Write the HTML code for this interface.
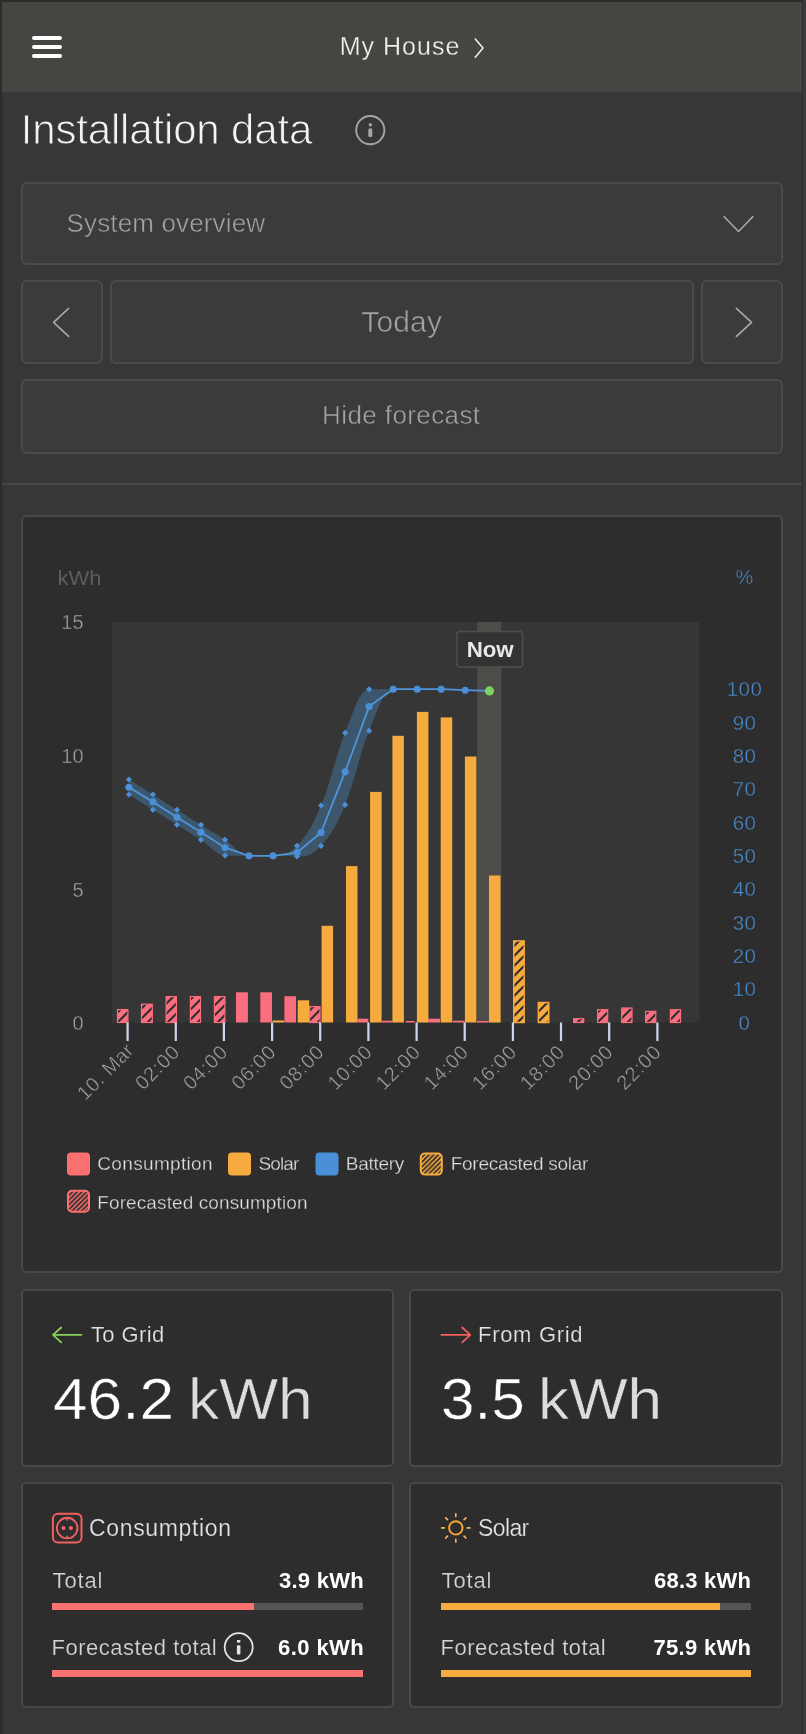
<!DOCTYPE html>
<html>
<head>
<meta charset="utf-8">
<title>Installation data</title>
<style>
html,body{margin:0;padding:0;}
body{width:806px;height:1734px;background:#373737;position:relative;overflow:hidden;
  font-family:"Liberation Sans",sans-serif;color:#fff;will-change:transform;}
.a{position:absolute;white-space:nowrap;line-height:1;}
.box{position:absolute;box-sizing:border-box;border:2px solid #4b4b4b;border-radius:6px;background:#3b3b3b;}
.card{position:absolute;box-sizing:border-box;border:2px solid #484848;border-radius:5px;background:#2d2d2d;}
.btxt{color:#a4a4a4;}
svg{position:absolute;left:0;top:0;overflow:visible;}
</style>
</head>
<body>
<!-- frame edges -->
<div class="a" style="left:0;top:0;width:806px;height:2px;background:#2c2c2b;"></div>
<div class="a" style="left:0;top:0;width:2px;height:1734px;background:#2c2c2c;"></div>
<div class="a" style="left:2px;top:92px;width:3px;height:1642px;background:#343434;"></div>
<div class="a" style="left:802px;top:0;width:1px;height:1734px;background:#2c2c2c;"></div>
<div class="a" style="left:803px;top:0;width:3px;height:1734px;background:#3a3a3a;"></div>

<!-- header -->
<div class="a" id="hdr" style="left:2px;top:2px;width:800px;height:90px;background:#474542;"></div>
<div class="a" style="left:32px;top:36px;width:30px;height:4px;border-radius:2px;background:#fff;"></div>
<div class="a" style="left:32px;top:45px;width:30px;height:4px;border-radius:2px;background:#fff;"></div>
<div class="a" style="left:32px;top:54px;width:30px;height:4px;border-radius:2px;background:#fff;"></div>
<div class="a" id="t_house" style="-webkit-text-stroke:0.3px #474542;left:339.8px;top:33.7px;letter-spacing:1.0px;font-size:25px;color:#f2f2f2;">My House</div>

<!-- title -->
<div class="a" id="t_title" style="left:20.7px;top:109.3px;-webkit-text-stroke:0.9px #373737;letter-spacing:-0.16px;font-size:42px;color:#f4f4f4;">Installation data</div>

<!-- select -->
<div class="box" style="left:21px;top:182px;width:762px;height:83px;"></div>
<div class="a btxt" id="t_sys" style="-webkit-text-stroke:0.5px #3b3b3b;left:66.6px;top:210.3px;letter-spacing:0.14px;font-size:26px;">System overview</div>

<!-- date nav -->
<div class="box" style="left:21px;top:280px;width:82px;height:84px;"></div>
<div class="box" style="left:110px;top:280px;width:584px;height:84px;"></div>
<div class="box" style="left:701px;top:280px;width:82px;height:84px;"></div>
<div class="a btxt" id="t_today" style="-webkit-text-stroke:0.6px #3b3b3b;left:361.3px;top:306.7px;letter-spacing:0.15px;font-size:30px;">Today</div>

<!-- hide forecast -->
<div class="box" style="left:21px;top:379px;width:762px;height:75px;"></div>
<div class="a btxt" id="t_hide" style="-webkit-text-stroke:0.5px #3b3b3b;left:322.1px;top:402.4px;letter-spacing:0.4px;font-size:26px;">Hide forecast</div>

<!-- separator -->
<div class="a" style="left:2px;top:483px;width:800px;height:2px;background:#474747;"></div>

<!-- chart card -->
<div class="card" style="left:21px;top:515px;width:762px;height:758px;"></div>

<!-- bottom cards -->
<div class="card" style="left:21px;top:1289px;width:373px;height:178px;"></div>
<div class="card" style="left:409px;top:1289px;width:374px;height:178px;"></div>
<div class="card" style="left:21px;top:1482px;width:373px;height:226px;"></div>
<div class="card" style="left:409px;top:1482px;width:374px;height:226px;"></div>

<svg width="806" height="1734" viewBox="0 0 806 1734">
<defs>
<pattern id="hs" patternUnits="userSpaceOnUse" width="10" height="10"><rect width="10" height="10" fill="#f7ab3e"/><path d="M 0 10 L 10 0 M -1 1 L 1 -1 M 9 11 L 11 9" stroke="#2f2f2f" stroke-width="2.2" fill="none"/></pattern>
<pattern id="hc" patternUnits="userSpaceOnUse" width="10" height="10"><rect width="10" height="10" fill="#fa6e80"/><path d="M 0 10 L 10 0 M -1 1 L 1 -1 M 9 11 L 11 9" stroke="#2f2f2f" stroke-width="2.2" fill="none"/></pattern>
<pattern id="hsl" patternUnits="userSpaceOnUse" width="4.7" height="4.7"><rect width="4.7" height="4.7" fill="#f7ab3e"/><path d="M 0 4.7 L 4.7 0 M -1 1 L 1 -1 M 3.7 5.7 L 5.7 3.7" stroke="#2b2b2b" stroke-width="1.8" fill="none"/></pattern>
<pattern id="hcl" patternUnits="userSpaceOnUse" width="4.7" height="4.7"><rect width="4.7" height="4.7" fill="#fa7070"/><path d="M 0 4.7 L 4.7 0 M -1 1 L 1 -1 M 3.7 5.7 L 5.7 3.7" stroke="#2b2b2b" stroke-width="1.8" fill="none"/></pattern>
</defs>
<rect x="111.7" y="622.0" width="587.8" height="400.5" fill="#363636"/>
<rect x="477.2" y="622.0" width="24.1" height="400.5" fill="#4e4c49"/>
<rect x="272.5" y="1020.5" width="11.5" height="2.0" fill="#f7ab3e"/>
<rect x="297.7" y="1000.3" width="11.5" height="22.2" fill="#f7ab3e"/>
<rect x="321.6" y="925.8" width="11.5" height="96.7" fill="#f7ab3e"/>
<rect x="346" y="866.1" width="11.5" height="156.4" fill="#f7ab3e"/>
<rect x="370.1" y="791.9" width="11.5" height="230.6" fill="#f7ab3e"/>
<rect x="392.4" y="735.8" width="11.5" height="286.7" fill="#f7ab3e"/>
<rect x="416.9" y="711.9" width="11.5" height="310.6" fill="#f7ab3e"/>
<rect x="440.7" y="717.4" width="11.5" height="305.1" fill="#f7ab3e"/>
<rect x="464.9" y="756.5" width="11.5" height="266.0" fill="#f7ab3e"/>
<rect x="489" y="875.5" width="11.5" height="147.0" fill="#f7ab3e"/>
<rect x="513.75" y="940.95" width="10.40" height="81.55" fill="url(#hs)" stroke="#f7ab3e" stroke-width="1.5"/>
<rect x="538.35" y="1002.55" width="10.40" height="19.95" fill="url(#hs)" stroke="#f7ab3e" stroke-width="1.5"/>
<rect x="236" y="992.3" width="11.9" height="30.2" fill="#fa6e80"/>
<rect x="260.3" y="992.3" width="11.7" height="30.2" fill="#fa6e80"/>
<rect x="284.4" y="996.2" width="11.6" height="26.3" fill="#fa6e80"/>
<rect x="357.4" y="1018.7" width="10.9" height="3.8" fill="#fa6e80"/>
<rect x="381.6" y="1020.7" width="10.8" height="1.8" fill="#fa6e80"/>
<rect x="405.8" y="1021.0" width="9.0" height="1.5" fill="#fa6e80"/>
<rect x="428.2" y="1018.7" width="11.8" height="3.8" fill="#fa6e80"/>
<rect x="452.5" y="1020.7" width="12.0" height="1.8" fill="#fa6e80"/>
<rect x="477" y="1021.0" width="11.5" height="1.5" fill="#fa6e80"/>
<rect x="117.50" y="1009.60" width="10.40" height="12.90" fill="url(#hc)" stroke="#fa6e80" stroke-width="1.2"/>
<rect x="141.50" y="1004.20" width="10.80" height="18.30" fill="url(#hc)" stroke="#fa6e80" stroke-width="1.2"/>
<rect x="166.10" y="996.60" width="10.30" height="25.90" fill="url(#hc)" stroke="#fa6e80" stroke-width="1.2"/>
<rect x="190.40" y="996.60" width="10.10" height="25.90" fill="url(#hc)" stroke="#fa6e80" stroke-width="1.2"/>
<rect x="214.40" y="996.60" width="10.50" height="25.90" fill="url(#hc)" stroke="#fa6e80" stroke-width="1.2"/>
<rect x="309.60" y="1006.60" width="10.40" height="15.90" fill="url(#hc)" stroke="#fa6e80" stroke-width="1.2"/>
<rect x="573.60" y="1018.70" width="10.10" height="3.80" fill="url(#hc)" stroke="#fa6e80" stroke-width="1.2"/>
<rect x="597.60" y="1009.70" width="10.10" height="12.80" fill="url(#hc)" stroke="#fa6e80" stroke-width="1.2"/>
<rect x="621.70" y="1008.00" width="10.30" height="14.50" fill="url(#hc)" stroke="#fa6e80" stroke-width="1.2"/>
<rect x="645.70" y="1011.40" width="10.10" height="11.10" fill="url(#hc)" stroke="#fa6e80" stroke-width="1.2"/>
<rect x="670.40" y="1009.70" width="10.10" height="12.80" fill="url(#hc)" stroke="#fa6e80" stroke-width="1.2"/>
<path d="M 128.90 779.52 C 128.90 779.52 143.31 788.46 152.92 794.52 C 162.53 800.59 167.33 803.79 176.94 809.85 C 186.55 815.92 191.35 818.85 200.96 824.85 C 210.57 830.85 215.37 833.65 224.98 839.85 C 234.59 846.05 239.39 855.85 249.00 855.85 C 258.61 855.85 263.41 855.85 273.02 855.85 C 282.63 855.85 287.43 855.85 297.04 845.85 C 306.65 835.85 311.45 828.12 321.06 805.52 C 330.67 782.92 335.47 756.13 345.08 732.86 C 354.69 709.60 359.49 689.20 369.10 689.20 C 378.71 689.20 383.51 689.20 393.12 689.20 C 402.73 689.20 407.53 689.20 417.14 689.20 C 426.75 689.20 431.55 689.20 441.16 689.20 C 450.77 689.20 465.18 690.20 465.18 690.20 L 465.18 690.20 C 465.18 690.20 450.77 689.20 441.16 689.20 C 431.55 689.20 426.75 689.20 417.14 689.20 C 407.53 689.20 402.73 689.20 393.12 689.20 C 383.51 689.20 378.71 707.73 369.10 730.86 C 359.49 753.99 354.69 781.86 345.08 804.86 C 335.47 827.85 330.67 835.52 321.06 845.85 C 311.45 856.18 306.65 856.52 297.04 856.52 C 287.43 856.52 282.63 855.85 273.02 855.85 C 263.41 855.85 258.61 855.85 249.00 855.85 C 239.39 855.85 234.59 855.85 224.98 855.52 C 215.37 855.18 210.57 845.98 200.96 839.85 C 191.35 833.72 186.55 830.85 176.94 824.85 C 167.33 818.85 162.53 815.92 152.92 809.85 C 143.31 803.79 128.90 794.52 128.90 794.52 Z" fill="rgb(77,145,208)" fill-opacity="0.35" stroke="none"/>
<path d="M 128.90 787.19 L 152.92 801.86 L 176.94 817.19 L 200.96 832.19 L 224.98 847.52 L 249.00 855.85 L 273.02 855.85 L 297.04 852.52 L 321.06 832.52 L 345.08 771.86 L 369.10 706.53 L 393.12 689.20 L 417.14 689.20 L 441.16 689.20 L 465.18 690.20 L 489.50 690.90" fill="none" stroke="#4f95dc" stroke-width="1.8" stroke-linejoin="round"/>
<path d="M 128.90 776.47 L 131.95 779.52 L 128.90 782.57 L 125.85 779.52 Z" fill="#4a90d9"/>
<path d="M 152.92 791.47 L 155.97 794.52 L 152.92 797.57 L 149.87 794.52 Z" fill="#4a90d9"/>
<path d="M 176.94 806.80 L 179.99 809.85 L 176.94 812.90 L 173.89 809.85 Z" fill="#4a90d9"/>
<path d="M 200.96 821.80 L 204.01 824.85 L 200.96 827.90 L 197.91 824.85 Z" fill="#4a90d9"/>
<path d="M 224.98 836.80 L 228.03 839.85 L 224.98 842.90 L 221.93 839.85 Z" fill="#4a90d9"/>
<path d="M 249.00 852.80 L 252.05 855.85 L 249.00 858.90 L 245.95 855.85 Z" fill="#4a90d9"/>
<path d="M 273.02 852.80 L 276.07 855.85 L 273.02 858.90 L 269.97 855.85 Z" fill="#4a90d9"/>
<path d="M 297.04 842.80 L 300.09 845.85 L 297.04 848.90 L 293.99 845.85 Z" fill="#4a90d9"/>
<path d="M 321.06 802.47 L 324.11 805.52 L 321.06 808.57 L 318.01 805.52 Z" fill="#4a90d9"/>
<path d="M 345.08 729.81 L 348.13 732.86 L 345.08 735.91 L 342.03 732.86 Z" fill="#4a90d9"/>
<path d="M 369.10 686.15 L 372.15 689.20 L 369.10 692.25 L 366.05 689.20 Z" fill="#4a90d9"/>
<path d="M 393.12 686.15 L 396.17 689.20 L 393.12 692.25 L 390.07 689.20 Z" fill="#4a90d9"/>
<path d="M 417.14 686.15 L 420.19 689.20 L 417.14 692.25 L 414.09 689.20 Z" fill="#4a90d9"/>
<path d="M 441.16 686.15 L 444.21 689.20 L 441.16 692.25 L 438.11 689.20 Z" fill="#4a90d9"/>
<path d="M 465.18 687.15 L 468.23 690.20 L 465.18 693.25 L 462.13 690.20 Z" fill="#4a90d9"/>
<path d="M 128.90 791.47 L 131.95 794.52 L 128.90 797.57 L 125.85 794.52 Z" fill="#4a90d9"/>
<path d="M 152.92 806.80 L 155.97 809.85 L 152.92 812.90 L 149.87 809.85 Z" fill="#4a90d9"/>
<path d="M 176.94 821.80 L 179.99 824.85 L 176.94 827.90 L 173.89 824.85 Z" fill="#4a90d9"/>
<path d="M 200.96 836.80 L 204.01 839.85 L 200.96 842.90 L 197.91 839.85 Z" fill="#4a90d9"/>
<path d="M 224.98 852.47 L 228.03 855.52 L 224.98 858.57 L 221.93 855.52 Z" fill="#4a90d9"/>
<path d="M 249.00 852.80 L 252.05 855.85 L 249.00 858.90 L 245.95 855.85 Z" fill="#4a90d9"/>
<path d="M 273.02 852.80 L 276.07 855.85 L 273.02 858.90 L 269.97 855.85 Z" fill="#4a90d9"/>
<path d="M 297.04 853.47 L 300.09 856.52 L 297.04 859.57 L 293.99 856.52 Z" fill="#4a90d9"/>
<path d="M 321.06 842.80 L 324.11 845.85 L 321.06 848.90 L 318.01 845.85 Z" fill="#4a90d9"/>
<path d="M 345.08 801.81 L 348.13 804.86 L 345.08 807.91 L 342.03 804.86 Z" fill="#4a90d9"/>
<path d="M 369.10 727.81 L 372.15 730.86 L 369.10 733.91 L 366.05 730.86 Z" fill="#4a90d9"/>
<path d="M 393.12 686.15 L 396.17 689.20 L 393.12 692.25 L 390.07 689.20 Z" fill="#4a90d9"/>
<path d="M 417.14 686.15 L 420.19 689.20 L 417.14 692.25 L 414.09 689.20 Z" fill="#4a90d9"/>
<path d="M 441.16 686.15 L 444.21 689.20 L 441.16 692.25 L 438.11 689.20 Z" fill="#4a90d9"/>
<path d="M 465.18 687.15 L 468.23 690.20 L 465.18 693.25 L 462.13 690.20 Z" fill="#4a90d9"/>
<circle cx="128.90" cy="787.19" r="3.55" fill="#4a90d9"/>
<circle cx="152.92" cy="801.86" r="3.55" fill="#4a90d9"/>
<circle cx="176.94" cy="817.19" r="3.55" fill="#4a90d9"/>
<circle cx="200.96" cy="832.19" r="3.55" fill="#4a90d9"/>
<circle cx="224.98" cy="847.52" r="3.55" fill="#4a90d9"/>
<circle cx="249.00" cy="855.85" r="3.55" fill="#4a90d9"/>
<circle cx="273.02" cy="855.85" r="3.55" fill="#4a90d9"/>
<circle cx="297.04" cy="852.52" r="3.55" fill="#4a90d9"/>
<circle cx="321.06" cy="832.52" r="3.55" fill="#4a90d9"/>
<circle cx="345.08" cy="771.86" r="3.55" fill="#4a90d9"/>
<circle cx="369.10" cy="706.53" r="3.55" fill="#4a90d9"/>
<circle cx="393.12" cy="689.20" r="3.55" fill="#4a90d9"/>
<circle cx="417.14" cy="689.20" r="3.55" fill="#4a90d9"/>
<circle cx="441.16" cy="689.20" r="3.55" fill="#4a90d9"/>
<circle cx="465.18" cy="690.20" r="3.55" fill="#4a90d9"/>
<circle cx="489.5" cy="690.9" r="4.6" fill="#7ed15f"/>
<rect x="457" y="631.5" width="65.5" height="35.6" rx="3" fill="#333333" stroke="#4f4f4f" stroke-width="1.5"/>
<text x="466.7" y="656.6" font-size="22.5" font-weight="bold" textLength="47" lengthAdjust="spacingAndGlyphs" fill="#e8e8e8">Now</text>
<rect x="126.5" y="1022.5" width="2.2" height="18.5" fill="#ccd6eb"/>
<rect x="174.7" y="1022.5" width="2.2" height="18.5" fill="#ccd6eb"/>
<rect x="222.8" y="1022.5" width="2.2" height="18.5" fill="#ccd6eb"/>
<rect x="271.0" y="1022.5" width="2.2" height="18.5" fill="#ccd6eb"/>
<rect x="319.1" y="1022.5" width="2.2" height="18.5" fill="#ccd6eb"/>
<rect x="367.3" y="1022.5" width="2.2" height="18.5" fill="#ccd6eb"/>
<rect x="415.5" y="1022.5" width="2.2" height="18.5" fill="#ccd6eb"/>
<rect x="463.6" y="1022.5" width="2.2" height="18.5" fill="#ccd6eb"/>
<rect x="511.8" y="1022.5" width="2.2" height="18.5" fill="#ccd6eb"/>
<rect x="559.9" y="1022.5" width="2.2" height="18.5" fill="#ccd6eb"/>
<rect x="608.1" y="1022.5" width="2.2" height="18.5" fill="#ccd6eb"/>
<rect x="656.3" y="1022.5" width="2.2" height="18.5" fill="#ccd6eb"/>
<text transform="translate(135.0,1051.6) rotate(-45)" text-anchor="end" font-size="20" letter-spacing="0.35" fill="#a2a2a2" stroke="#2d2d2d" stroke-width="0.45">10. Mar</text>
<text transform="translate(181.0,1053.2) rotate(-45)" text-anchor="end" font-size="20" letter-spacing="0.7" fill="#a2a2a2" stroke="#2d2d2d" stroke-width="0.45">02:00</text>
<text transform="translate(229.1,1053.2) rotate(-45)" text-anchor="end" font-size="20" letter-spacing="0.7" fill="#a2a2a2" stroke="#2d2d2d" stroke-width="0.45">04:00</text>
<text transform="translate(277.3,1053.2) rotate(-45)" text-anchor="end" font-size="20" letter-spacing="0.7" fill="#a2a2a2" stroke="#2d2d2d" stroke-width="0.45">06:00</text>
<text transform="translate(325.4,1053.2) rotate(-45)" text-anchor="end" font-size="20" letter-spacing="0.7" fill="#a2a2a2" stroke="#2d2d2d" stroke-width="0.45">08:00</text>
<text transform="translate(373.6,1053.2) rotate(-45)" text-anchor="end" font-size="20" letter-spacing="0.7" fill="#a2a2a2" stroke="#2d2d2d" stroke-width="0.45">10:00</text>
<text transform="translate(421.8,1053.2) rotate(-45)" text-anchor="end" font-size="20" letter-spacing="0.7" fill="#a2a2a2" stroke="#2d2d2d" stroke-width="0.45">12:00</text>
<text transform="translate(469.9,1053.2) rotate(-45)" text-anchor="end" font-size="20" letter-spacing="0.7" fill="#a2a2a2" stroke="#2d2d2d" stroke-width="0.45">14:00</text>
<text transform="translate(518.1,1053.2) rotate(-45)" text-anchor="end" font-size="20" letter-spacing="0.7" fill="#a2a2a2" stroke="#2d2d2d" stroke-width="0.45">16:00</text>
<text transform="translate(566.2,1053.2) rotate(-45)" text-anchor="end" font-size="20" letter-spacing="0.7" fill="#a2a2a2" stroke="#2d2d2d" stroke-width="0.45">18:00</text>
<text transform="translate(614.4,1053.2) rotate(-45)" text-anchor="end" font-size="20" letter-spacing="0.7" fill="#a2a2a2" stroke="#2d2d2d" stroke-width="0.45">20:00</text>
<text transform="translate(662.6,1053.2) rotate(-45)" text-anchor="end" font-size="20" letter-spacing="0.7" fill="#a2a2a2" stroke="#2d2d2d" stroke-width="0.45">22:00</text>
<text x="84" y="629" text-anchor="end" font-size="20" letter-spacing="0.3" fill="#a4a4a4" stroke="#2d2d2d" stroke-width="0.4">15</text>
<text x="84" y="763" text-anchor="end" font-size="20" letter-spacing="0.3" fill="#a4a4a4" stroke="#2d2d2d" stroke-width="0.4">10</text>
<text x="84" y="897" text-anchor="end" font-size="20" letter-spacing="0.3" fill="#a4a4a4" stroke="#2d2d2d" stroke-width="0.4">5</text>
<text x="84" y="1029.5" text-anchor="end" font-size="20" letter-spacing="0.3" fill="#a4a4a4" stroke="#2d2d2d" stroke-width="0.4">0</text>
<text x="57.5" y="584.5" font-size="20.5" textLength="44" lengthAdjust="spacingAndGlyphs" fill="#5e5e5e">kWh</text>
<text x="744.5" y="584" text-anchor="middle" font-size="20" fill="#4a8bcc" stroke="#2d2d2d" stroke-width="0.4">%</text>
<text x="744.5" y="1029.5" text-anchor="middle" font-size="20.5" letter-spacing="0.4" fill="#4a8bcc" stroke="#2d2d2d" stroke-width="0.4">0</text>
<text x="744.5" y="996.2" text-anchor="middle" font-size="20.5" letter-spacing="0.4" fill="#4a8bcc" stroke="#2d2d2d" stroke-width="0.4">10</text>
<text x="744.5" y="962.8" text-anchor="middle" font-size="20.5" letter-spacing="0.4" fill="#4a8bcc" stroke="#2d2d2d" stroke-width="0.4">20</text>
<text x="744.5" y="929.5" text-anchor="middle" font-size="20.5" letter-spacing="0.4" fill="#4a8bcc" stroke="#2d2d2d" stroke-width="0.4">30</text>
<text x="744.5" y="896.2" text-anchor="middle" font-size="20.5" letter-spacing="0.4" fill="#4a8bcc" stroke="#2d2d2d" stroke-width="0.4">40</text>
<text x="744.5" y="862.9" text-anchor="middle" font-size="20.5" letter-spacing="0.4" fill="#4a8bcc" stroke="#2d2d2d" stroke-width="0.4">50</text>
<text x="744.5" y="829.5" text-anchor="middle" font-size="20.5" letter-spacing="0.4" fill="#4a8bcc" stroke="#2d2d2d" stroke-width="0.4">60</text>
<text x="744.5" y="796.2" text-anchor="middle" font-size="20.5" letter-spacing="0.4" fill="#4a8bcc" stroke="#2d2d2d" stroke-width="0.4">70</text>
<text x="744.5" y="762.9" text-anchor="middle" font-size="20.5" letter-spacing="0.4" fill="#4a8bcc" stroke="#2d2d2d" stroke-width="0.4">80</text>
<text x="744.5" y="729.5" text-anchor="middle" font-size="20.5" letter-spacing="0.4" fill="#4a8bcc" stroke="#2d2d2d" stroke-width="0.4">90</text>
<text x="744.5" y="696.2" text-anchor="middle" font-size="20.5" letter-spacing="0.4" fill="#4a8bcc" stroke="#2d2d2d" stroke-width="0.4">100</text>
<rect x="67" y="1152.5" width="23" height="23" rx="4" fill="#fa7070"/>
<rect x="228" y="1152.5" width="23" height="23" rx="4" fill="#f7ab3e"/>
<rect x="315.5" y="1152.5" width="23" height="23" rx="4" fill="#4a90d9"/>
<rect x="420.8" y="1153.6" width="21" height="21" rx="4" fill="url(#hsl)" stroke="#f7ab3e" stroke-width="2"/>
<rect x="68" y="1190.8" width="21" height="21" rx="4" fill="url(#hcl)" stroke="#fa7070" stroke-width="2"/>
<text x="97.3" y="1170" font-size="19" textLength="115.3" lengthAdjust="spacing" fill="#e0e0e0" stroke="#2d2d2d" stroke-width="0.3">Consumption</text>
<text x="258.4" y="1170" font-size="19" textLength="41" lengthAdjust="spacing" fill="#e0e0e0" stroke="#2d2d2d" stroke-width="0.3">Solar</text>
<text x="345.8" y="1170" font-size="19" textLength="58.4" lengthAdjust="spacing" fill="#e0e0e0" stroke="#2d2d2d" stroke-width="0.3">Battery</text>
<text x="450.7" y="1170" font-size="19" textLength="137.7" lengthAdjust="spacing" fill="#e0e0e0" stroke="#2d2d2d" stroke-width="0.3">Forecasted solar</text>
<text x="97.3" y="1208.5" font-size="19" textLength="210.2" lengthAdjust="spacing" fill="#e0e0e0" stroke="#2d2d2d" stroke-width="0.3">Forecasted consumption</text>
</svg>

<!-- grid cards -->
<div class="a" id="t_togrid" style="-webkit-text-stroke:0.2px #2d2d2d;left:91px;top:1323.7px;letter-spacing:0.37px;font-size:22px;color:#e2e2e2;">To Grid</div>
<div class="a" id="t_462" style="-webkit-text-stroke:0.5px #2d2d2d;left:53px;transform-origin:0 0;transform:scaleX(1.0725);top:1370px;font-size:58px;color:#fff;">46.2</div>
<div class="a" id="t_kwh1" style="-webkit-text-stroke:0.45px #2d2d2d;left:187.5px;transform-origin:0 0;transform:scaleX(1.075);top:1370px;font-size:58px;color:#dcdcdc;">kWh</div>
<div class="a" id="t_fromgrid" style="-webkit-text-stroke:0.2px #2d2d2d;left:478px;top:1323.7px;letter-spacing:0.69px;font-size:22px;color:#e2e2e2;">From Grid</div>
<div class="a" id="t_35" style="-webkit-text-stroke:0.5px #2d2d2d;left:440.9px;transform-origin:0 0;transform:scaleX(1.037);top:1370px;font-size:58px;color:#fff;">3.5</div>
<div class="a" id="t_kwh2" style="-webkit-text-stroke:0.45px #2d2d2d;left:538px;transform-origin:0 0;transform:scaleX(1.07);top:1370px;font-size:58px;color:#dcdcdc;">kWh</div>

<!-- consumption card -->
<div class="a" id="t_cons" style="-webkit-text-stroke:0.2px #2d2d2d;left:89px;top:1517.2px;letter-spacing:0.65px;font-size:23px;color:#e2e2e2;">Consumption</div>
<div class="a" id="t_tot1" style="-webkit-text-stroke:0.2px #2d2d2d;left:52.5px;top:1570.0px;letter-spacing:0.88px;font-size:22px;color:#d4d4d4;">Total</div>
<div class="a" id="t_39" style="left:279px;top:1570.0px;letter-spacing:0.25px;font-size:22px;font-weight:bold;color:#fff;">3.9 kWh</div>
<div class="a" style="left:52px;top:1603px;width:311px;height:7px;background:#555;"></div>
<div class="a" style="left:52px;top:1603px;width:202px;height:7px;background:#fa716f;"></div>
<div class="a" id="t_ft1" style="-webkit-text-stroke:0.2px #2d2d2d;left:51.5px;top:1637.0px;letter-spacing:0.5px;font-size:22px;color:#d4d4d4;">Forecasted total</div>
<div class="a" id="t_60" style="left:278px;top:1637.0px;letter-spacing:0.42px;font-size:22px;font-weight:bold;color:#fff;">6.0 kWh</div>
<div class="a" style="left:52px;top:1670px;width:311px;height:7px;background:#fa716f;"></div>

<!-- solar card -->
<div class="a" id="t_solar" style="-webkit-text-stroke:0.2px #2d2d2d;left:478px;top:1517.2px;letter-spacing:-0.62px;font-size:23px;color:#e2e2e2;">Solar</div>
<div class="a" id="t_tot2" style="-webkit-text-stroke:0.2px #2d2d2d;left:441.5px;top:1570.0px;letter-spacing:0.88px;font-size:22px;color:#d4d4d4;">Total</div>
<div class="a" id="t_683" style="left:654px;top:1570.0px;letter-spacing:0.21px;font-size:22px;font-weight:bold;color:#fff;">68.3 kWh</div>
<div class="a" style="left:441px;top:1603px;width:310px;height:7px;background:#555;"></div>
<div class="a" style="left:441px;top:1603px;width:279px;height:7px;background:#f7ab3e;"></div>
<div class="a" id="t_ft2" style="-webkit-text-stroke:0.2px #2d2d2d;left:440.5px;top:1637.0px;letter-spacing:0.5px;font-size:22px;color:#d4d4d4;">Forecasted total</div>
<div class="a" id="t_759" style="left:653.5px;top:1637.0px;letter-spacing:0.29px;font-size:22px;font-weight:bold;color:#fff;">75.9 kWh</div>
<div class="a" style="left:441px;top:1670px;width:310px;height:7px;background:#f7ab3e;"></div>


<svg width="806" height="1734" viewBox="0 0 806 1734" fill="none" stroke-linecap="round" stroke-linejoin="round">
<!-- header chevron -->
<path d="M 475.3 39 L 483 48.1 L 475.3 57.3" stroke="#f2f2f2" stroke-width="1.5"/>
<!-- title info -->
<circle cx="370.3" cy="130.1" r="14.1" stroke="#a6a6a6" stroke-width="1.9"/>
<rect x="368.8" y="123.3" width="3" height="2.9" fill="#a6a6a6"/>
<rect x="368.3" y="128.3" width="4" height="9" rx="1.8" fill="#a6a6a6"/>
<!-- select chevron -->
<path d="M 724 216.5 L 738.5 231.5 L 753 216.5" stroke="#aaaaaa" stroke-width="1.6"/>
<!-- nav chevrons -->
<path d="M 68.6 308.3 L 53.6 322.3 L 68.6 336.4" stroke="#aaaaaa" stroke-width="1.6"/>
<path d="M 736.4 308.3 L 751.6 322.3 L 736.4 336.4" stroke="#aaaaaa" stroke-width="1.6"/>
<!-- to grid arrow -->
<path d="M 81.5 1334.8 L 53.2 1334.8 M 61.2 1327.5 L 53 1334.8 L 61.2 1342.4" stroke="#88d05a" stroke-width="1.8"/>
<!-- from grid arrow -->
<path d="M 441.3 1334.8 L 470 1334.8 M 462.2 1327.5 L 470.3 1334.8 L 462.2 1342.4" stroke="#f0605e" stroke-width="1.8"/>
<!-- consumption icon -->
<rect x="52.9" y="1513.7" width="28.6" height="28.9" rx="5" stroke="#f0605e" stroke-width="2"/>
<circle cx="67.2" cy="1528.1" r="10.3" stroke="#f0605e" stroke-width="1.9"/>
<circle cx="63.5" cy="1528.1" r="2.1" fill="#f0605e"/>
<circle cx="70.9" cy="1528.1" r="2.1" fill="#f0605e"/>
<path d="M 67.2 1518 L 67.2 1520 M 67.2 1536.2 L 67.2 1538.2" stroke="#f0605e" stroke-width="1.6"/>
<!-- sun icon -->
<circle cx="455.8" cy="1527.9" r="6.7" stroke="#f7a63a" stroke-width="1.9"/>
<g stroke="#f2b660" stroke-width="1.7"><path d="M 455.8 1516.4 L 455.8 1513.9 M 455.8 1539.4 L 455.8 1541.9 M 444.3 1527.9 L 441.8 1527.9 M 467.3 1527.9 L 469.8 1527.9 M 447.5 1519.6 L 445.7 1517.8 M 464.1 1536.2 L 465.9 1538.0 M 447.5 1536.2 L 445.7 1538.0 M 464.1 1519.6 L 465.9 1517.8"/></g>
<!-- forecast info -->
<circle cx="238.7" cy="1647.2" r="14" stroke="#e4e4e4" stroke-width="1.8"/>
<rect x="237" y="1640" width="3.3" height="2.6" fill="#e4e4e4"/>
<rect x="236.9" y="1645.2" width="3.5" height="9.2" rx="1" fill="#e4e4e4"/>
</svg>

</body>
</html>
